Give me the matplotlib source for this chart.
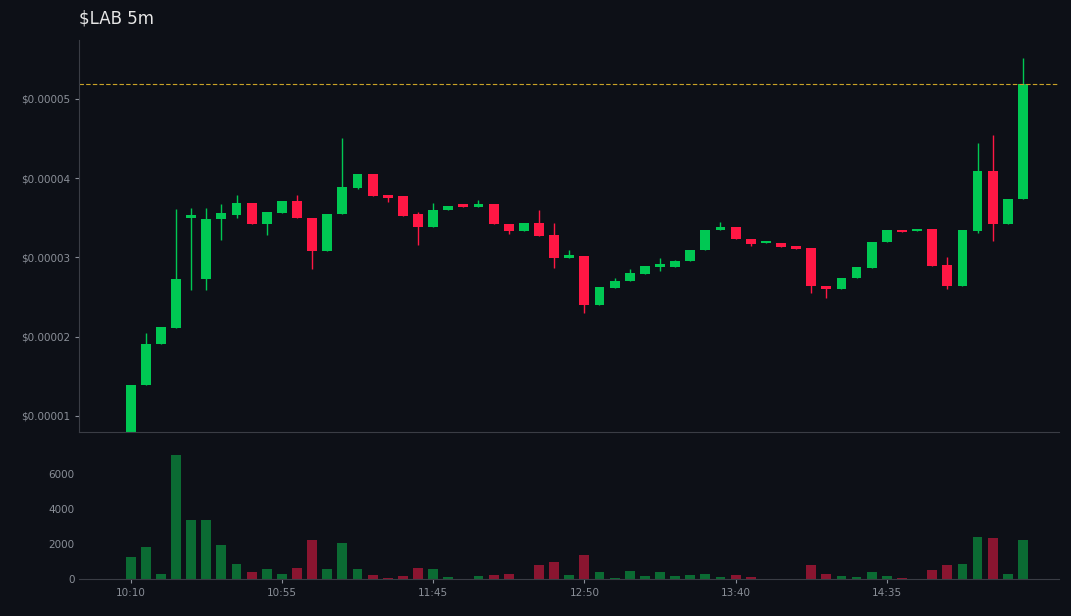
import matplotlib
matplotlib.use("Agg")
import matplotlib.pyplot as plt
import numpy as np

plt.rcParams['text.parse_math'] = False

opens  = [0.70,1.39,1.91,2.11,3.50,2.73,3.48,3.53,3.69,3.42,3.56,3.71,3.50,3.08,3.55,3.88,4.05,3.77,3.77,3.55,
          3.38,3.60,3.65,3.64,3.67,3.42,3.33,3.43,3.28,2.99,3.02,2.40,2.61,2.70,2.79,2.88,2.88,2.95,3.09,3.35,
          3.38,3.23,3.18,3.18,3.12,3.12,2.64,2.60,2.74,2.87,3.19,3.35,3.33,3.36,2.90,2.64,3.33,4.09,3.42,3.74]
highs  = [1.39,2.05,2.12,3.61,3.62,3.62,3.67,3.79,3.69,3.57,3.71,3.79,3.50,3.55,4.51,4.05,4.05,3.77,3.77,3.57,
          3.69,3.65,3.65,3.72,3.67,3.42,3.43,3.60,3.43,3.09,3.02,2.63,2.74,2.85,2.89,2.99,2.97,3.09,3.35,3.45,
          3.38,3.23,3.19,3.18,3.12,3.12,2.64,2.74,2.88,3.19,3.35,3.35,3.35,3.36,3.00,3.35,4.44,4.54,3.74,5.51]
lows   = [0.65,1.39,1.91,2.11,2.59,2.59,3.22,3.50,3.42,3.28,3.56,3.50,2.85,3.08,3.55,3.86,3.77,3.70,3.52,3.16,
          3.38,3.60,3.64,3.64,3.42,3.30,3.33,3.27,2.87,2.99,2.30,2.40,2.61,2.70,2.79,2.83,2.88,2.95,3.09,3.35,
          3.23,3.14,3.18,3.13,3.11,2.55,2.49,2.60,2.74,2.87,3.19,3.32,3.33,2.89,2.60,2.64,3.31,3.21,3.42,3.74]
closes = [1.39,1.91,2.12,2.73,3.50,3.48,3.56,3.69,3.42,3.57,3.71,3.50,3.08,3.55,3.89,4.05,3.77,3.75,3.52,3.38,
          3.60,3.65,3.64,3.67,3.42,3.33,3.43,3.27,2.99,3.03,2.40,2.63,2.70,2.80,2.89,2.89,2.95,3.09,3.35,3.38,
          3.23,3.17,3.19,3.13,3.11,2.64,2.60,2.74,2.88,3.19,3.35,3.32,3.35,2.89,2.64,3.35,4.09,3.42,3.74,5.19]
volumes = [1260,1830,290,7090,3370,3370,1940,860,400,570,290,630,2230,570,2060,570,230,60,170,630,
           570,110,10,170,230,290,20,800,970,230,1370,400,60,460,170,400,170,230,290,110,
           230,110,10,10,10,800,290,170,110,400,170,40,10,520,800,860,2400,2340,290,2230]
time_labels = ["10:10","10:55","11:45","12:50","13:40","14:35"]
tick_idx = [0,10,20,30,40,50]
price_ticks = [1e-5,2e-5,3e-5,4e-5,5e-5]

scale = 1e-5
o = np.array(opens)*scale; h = np.array(highs)*scale
l = np.array(lows)*scale; c = np.array(closes)*scale
x = np.arange(len(o))
up = c >= o

BG = "#0d1017"
GREEN = "#00c853"; RED = "#ff1744"
VGREEN = "#0b6b33"; VRED = "#8a1530"
GRAY = "#8a8f98"; SPINE = "#3a3d45"

fig = plt.figure(figsize=(10.71, 6.16), dpi=100, facecolor=BG)
ax = fig.add_axes([0.074, 0.299, 0.915, 0.636], facecolor=BG)
axv = fig.add_axes([0.074, 0.060, 0.915, 0.213], facecolor=BG, sharex=ax)

cols = np.where(up, GREEN, RED)
ax.vlines(x, l, h, colors=cols, linewidth=1)
body_lo = np.minimum(o, c); body_h = np.abs(c - o)
body_h = np.maximum(body_h, 0.03*scale)
ax.bar(x, body_h, bottom=body_lo, width=0.65, color=cols)
ax.axhline(c[-1], color="#c9a227", linestyle=(0, (4, 2)), linewidth=0.8)

ax.set_ylim(0.8e-5, 5.74e-5)
ax.set_yticks(price_ticks)
ax.set_yticklabels([f"$0.{int(round(v*1e5)):07d}"[:0] + f"${v:.5f}" for v in price_ticks])
ax.set_xlim(-3.4, 61.4)
ax.tick_params(axis='x', bottom=False, labelbottom=False)

vcols = np.where(up, VGREEN, VRED)
axv.bar(x, volumes, width=0.65, color=vcols)
axv.set_ylim(0, 7500)
axv.set_yticks([0,2000,4000,6000])
axv.set_xticks(tick_idx)
axv.set_xticklabels(time_labels)

for a in (ax, axv):
    a.tick_params(colors=GRAY, labelsize=7.5, length=3)
    for s in ("top", "right"):
        a.spines[s].set_visible(False)
    a.spines["left"].set_color(SPINE)
    a.spines["bottom"].set_color(SPINE)
axv.spines["left"].set_visible(False)
axv.tick_params(axis='y', length=0)

fig.text(0.074, 0.955, "$LAB 5m", color="#e6e6e6", fontsize=12, ha="left", va="bottom")
fig.savefig("out.png", facecolor=BG)
